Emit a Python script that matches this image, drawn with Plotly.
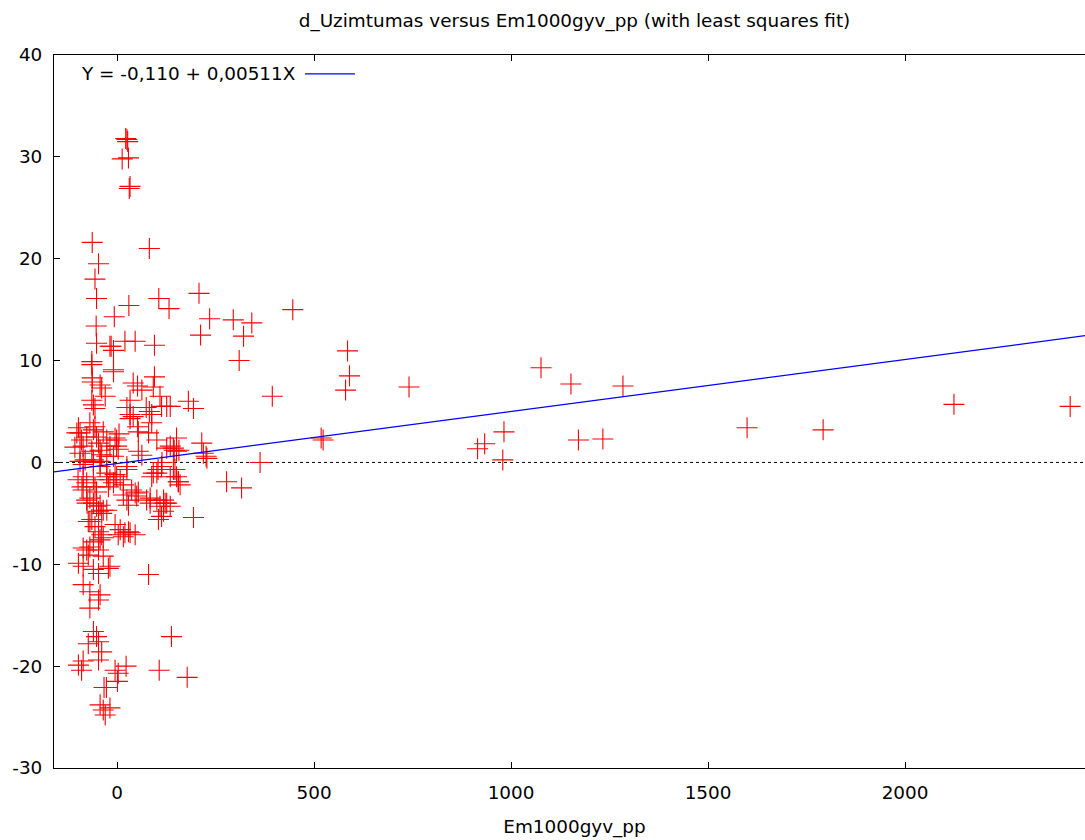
import plotly.graph_objects as go

# ---- data ----
x_vals = [
    22, 27, 25, 13, 29, 31, 33,
    -63, 82, -47, -56, -52, 106, 208,
    30, 132, -7, 446, 235, 295, 342,
    -53, 212, 321,
    -52, -18, -9, 20, 46, 95, -15,
    310, 585, 590, 580, 394,
    -64, -64, -9, -9, -63, -63, -43, -39, -30,
    41, 52, 95, 92, 63, 109,
    -64, -60, -56, 33, 25, 74, 82, 88,
    113, 126, 135, 181, 194,
    33, 33, 52, 54, 88, 80, 101, 151,
    135, 143, 151, 215, 219, 228, 226, 54, 63, -1,
    -98, -94, -90, -86, -94, -81, -86, -69, -60, -52, -47, -43, -39, -56, -35, -26, -18, -64, -60, -26, -9, -5, -43, -77,
    -26, -5, 25, 92, 143, 151,
    -94, -60, -43, 25, 113, 101, 88, 147, 135, 156, 160, 278, 316,
    -86, -77, -86, -60, -56, -52, -26, -18, -9, -22, -1, 8, 16,
    37, 46, 54, 50, 16, 25, 29, 75, 84, 118, 126, 109, 118, 105, 194,
    -77, -69, -60, -52, -43, -35, -26, -47, -39, -73, -64,
    -56, -47, -39, -35, -43, -60, -69, -77, -86, -47, -73, -35,
    -5, 8, 20, 33, 46, 3, 16, 29,
    -98, -86, -60, -47, -22, -18, 80,
    -86, -69, -43, -47, -69,
    -60, -52, 138,
    -73, -47, -39, -47, -86, -90, -98, -5, 3, 23, 1, 107, 178,
    -33, -27, -43, -35, -18, -30,
    41, 84, 101, 122, 135, 113,
    3, 5, -1, 126, 145, 114, 104, 155, 157,
    -99, -89, -76, -69, -102, -107,
    363, 518, 523, 741, 1076, 1152, 1284, 1599, 1792, 2124, 2419,
    982, 915, 933, 979, 1171, 1233,
]
y_vals = [
    31.8, 31.5, 31.7, 29.8, 29.9, 26.9, 27.1,
    21.6, 21.0, 19.5, 18.0, 16.1, 16.1, 16.6,
    15.4, 15.1, 14.3, 15.0, 14.1, 14.0, 13.7,
    13.4, 12.5, 12.4,
    11.7, 11.4, 11.0, 11.9, 11.9, 11.5, 11.4,
    10.0, 10.95, 8.5, 7.1, 6.5,
    9.9, 9.6, 8.9, 9.1, 8.3, 7.9, 7.6, 7.3, 6.5,
    7.8, 7.5, 8.4, 7.4, 7.1, 6.5,
    6.1, 5.65, 5.3, 6.1, 5.4, 5.4, 5.0, 4.7,
    5.5, 5.5, 5.5, 6.0, 5.3,
    4.7, 4.3, 3.5, 3.0, 3.9, 2.9, 2.2, 2.4,
    1.6, 1.4, 1.1, 1.9, 0.9, 0.4, 0.6, 1.1, 0.7, 1.6,
    3.4, 2.9, 2.2, 1.6, 0.9, 0.25, -0.2, 3.9, 3.2, 2.5, 1.9, 1.2, 0.75, 3.5, 3.0, 2.2, 1.6, 1.1, 0.25, 0.6, 0.6, 2.4, -0.4, 2.5,
    -1.05, -1.2, -0.7, -1.05, -0.7, -1.4,
    0.1, 0.0, 0.1, -0.4, -0.4, -1.05, -1.4, -0.7, -1.4, -1.9, -2.2, -1.9, -2.5,
    -1.4, -2.0, -2.7, -1.7, -2.4, -2.9, -1.4, -1.7, -2.0, -2.4, -1.4, -1.7, -2.2,
    -2.7, -3.0, -2.9, -3.3, -3.2, -3.7, -4.2, -3.7, -3.5, -3.7, -4.0, -4.3, -4.8, -5.6, -5.4,
    -3.7, -3.5, -4.0, -4.3, -4.2, -4.7, -4.7, -4.8, -5.0, -5.8, -5.6,
    -6.3, -6.8, -7.1, -7.4, -7.6, -7.8, -8.3, -8.6, -8.4, -8.6, -9.1, -9.2,
    -6.1, -6.6, -6.9, -6.9, -7.1, -7.1, -7.3, -6.8,
    -9.9, -10.2, -10.5, -10.9, -10.4, -10.2, -11.0,
    -12.0, -12.7, -13.0, -13.5, -14.3,
    -16.6, -17.1, -17.1,
    -17.8, -17.6, -18.6, -19.4, -19.5, -20.4, -19.9, -20.4, -20.7, -20.0, -21.5, -20.4, -21.1,
    -22.1, -22.1, -23.8, -24.3, -24.1, -24.8,
    4.5, -4.0, -3.7, -4.0, -4.3, -5.3,
    1.3, 2.8, 2.2, 1.4, 1.2, 0.0, -0.7, -1.9, 1.2,
    -1.7, -2.4, -4.0, -5.8, 2.9, 1.5,
    0.0, 2.4, 2.2, 7.4, 9.3, 7.7, 7.5, 3.4, 3.2, 5.7, 5.5,
    3.0, 1.34, 1.83, 0.25, 2.2, 2.3,
]

fit_intercept = -0.110
fit_slope = 0.00511
fit_label = "Y = -0,110 + 0,00511X"

x_range = [-160, 2482]
y_range = [-30, 40]
x_ticks = [0, 500, 1000, 1500, 2000]
y_ticks = [-30, -20, -10, 0, 10, 20, 30, 40]
x_ticktext = ["0", "500", "1000", "1500", "2000"]
y_ticktext = ["-30", "-20", "-10", "0", "10", "20", "30", "40"]

title_text = "d_Uzimtumas versus Em1000gyv_pp (with least squares fit)"
x_title = "Em1000gyv_pp"

FONT = "DejaVu Sans"
FS = 18.4

fig = go.Figure()

fig.add_trace(go.Scatter(
    x=x_vals, y=y_vals, mode="markers",
    marker=dict(symbol="cross-thin", size=15, line=dict(color="#ff0000", width=1.1)),
    showlegend=False, hoverinfo="x+y",
))

fit_x = list(x_range)
fit_y = [fit_intercept + fit_slope * v for v in fit_x]
fig.add_trace(go.Scatter(
    x=fit_x, y=fit_y, mode="lines",
    line=dict(color="#0000ff", width=1.2),
    showlegend=False,
))

# zero line (dotted)
fig.add_shape(type="line", xref="paper", yref="y", x0=0, x1=1, y0=0, y1=0,
              line=dict(color="black", width=1, dash="dot"), layer="below")

# gnuplot-style key: text then sample line
fig.add_annotation(xref="paper", yref="paper", x=0.0240, y=0.9734,
                   xanchor="left", yanchor="middle", showarrow=False,
                   text=fit_label, font=dict(family=FONT, size=FS, color="black"))
fig.add_shape(type="line", xref="paper", yref="paper", x0=0.2411, x1=0.2891,
              y0=0.9734, y1=0.9734, line=dict(color="#0000ff", width=1.2))

axis_common = dict(
    showgrid=False, zeroline=False, showline=True, linecolor="black", linewidth=1,
    ticks="inside", ticklen=6, tickcolor="black",
    tickfont=dict(family=FONT, size=FS, color="black"),
)

fig.update_layout(
    width=1095, height=840,
    paper_bgcolor="white", plot_bgcolor="white",
    margin=dict(l=54, r=0, t=55, b=72),
    title=dict(text=title_text, x=0.5247, xanchor="center", y=0.975, yanchor="middle",
               font=dict(family=FONT, size=FS, color="black")),
    xaxis=dict(range=x_range, tickvals=x_ticks, ticktext=x_ticktext, ticklabelstandoff=8,
               mirror="allticks",
               title=dict(text=x_title, font=dict(family=FONT, size=FS, color="black"), standoff=18),
               **axis_common),
    yaxis=dict(range=y_range, tickvals=y_ticks, ticktext=y_ticktext, ticklabelstandoff=7,
               mirror=True, **axis_common),
    font=dict(family=FONT, size=FS, color="black"),
)

fig.write_html(
    "out.html",
    config={"displayModeBar": False},
    post_script="document.body.style.margin='0';document.documentElement.style.overflow='hidden';",
)
